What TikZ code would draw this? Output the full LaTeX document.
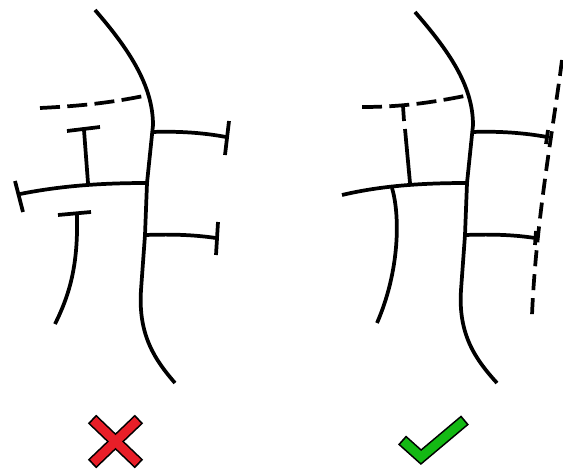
\documentclass[tikz,border=0pt]{standalone}
\definecolor{crossred}{RGB}{232,30,40}
\definecolor{tickgreen}{RGB}{20,185,20}
\begin{document}
\begin{tikzpicture}[x=0.75pt,y=-0.75pt,
  ln/.style={line width=2.8pt},
  dln/.style={line width=2.8pt, dash pattern=on 15pt off 5.5pt},
  markout/.style={line width=9pt, black},
]
\useasboundingbox (0,0) rectangle (563,471);

% ---------- left panel ----------
\coordinate (LA) at (95,10);
\coordinate (LP) at (153,125);
\coordinate (LJ0) at (148.5,95);
\coordinate (LJ1) at (152,132);
\coordinate (LJ2) at (147,183);
\coordinate (LJ3) at (145,235);
\coordinate (LB) at (175,383);
\draw[ln] (LA) .. controls (128,48) and (153,85) .. (LP) -- (LJ2) -- (LJ3) -- (141,290) .. controls (138,335) and (155,360) .. (LB);
\draw[dln] (40,108) .. controls (80,106) and (110,103) .. (LJ0);
% upper right branch
\coordinate (LE1) at (226,137);
\draw[ln] (LJ1) .. controls (180,131) and (205,133) .. (LE1);
\draw[ln] (229,121) -- (225,155);
% long left branch
\coordinate (LE2) at (20,194);
\coordinate (LT) at (88,183);
\draw[ln] (LJ2) .. controls (100,183) and (60,186) .. (LE2);
\draw[ln] (15,181) -- (23,212);
% T upward
\draw[ln] (LT) -- (84,130);
\draw[ln] (67,131) -- (100,127);
% lower right branch
\coordinate (LE3) at (216,238);
\draw[ln] (LJ3) .. controls (175,234) and (195,235) .. (LE3);
\draw[ln] (218,222) -- (216,255);
% lower left curve
\draw[ln] (77,214) .. controls (78,260) and (72,290) .. (55,324);
\draw[ln] (58,215) -- (91,212);

% ---------- right panel ----------
\coordinate (RA) at (415,12);
\coordinate (RP) at (473,125);
\coordinate (RJ0) at (469.5,95);
\coordinate (RJ1) at (472,132);
\coordinate (RJ2) at (467,183);
\coordinate (RJ3) at (465,235);
\coordinate (RB) at (497,383);
\draw[ln] (RA) .. controls (448,50) and (473,85) .. (RP) -- (RJ2) -- (RJ3) -- (461,290) .. controls (458,335) and (476,360) .. (RB);
\draw[dln] (362,107) .. controls (400,107) and (430,103) .. (RJ0);
% dashed T
\draw[ln] (403,106) -- (404,121);
\draw[ln] (405,129) -- (410,183);
% upper right branch
\coordinate (RE1) at (547,137);
\draw[ln] (RJ1) .. controls (500,131) and (525,133) .. (RE1);
\draw[ln] (548,130) -- (546,144);
% long left branch
\coordinate (RE2) at (342,195);
\draw[ln] (RJ2) .. controls (420,183) and (380,186) .. (RE2);
% lower right branch
\coordinate (RE3) at (535,238);
\draw[ln] (RJ3) .. controls (495,234) and (515,235) .. (RE3);
\draw[ln] (536,231) -- (535,245);
% lower left curve
\draw[ln] (392,188) .. controls (400,215) and (400,270) .. (377,323);
% right dashed boundary
\draw[line width=2.8pt, dash pattern=on 12pt off 6pt] (562,60) .. controls (553,130) and (536,220) .. (532,315);

% ---------- marks ----------
\coordinate (X1) at (92,419);
\coordinate (X2) at (139,464);
\coordinate (X3) at (139,419);
\coordinate (X4) at (92,464);
\draw[markout] (X1) -- (X2);
\draw[markout] (X3) -- (X4);
\draw[line width=6.6pt, crossred, shorten <=1.3pt, shorten >=1.3pt] (X1) -- (X2);
\draw[line width=6.6pt, crossred, shorten <=1.3pt, shorten >=1.3pt] (X3) -- (X4);

\coordinate (C1) at (402,440);
\coordinate (C2) at (421,457);
\coordinate (C3) at (465,420);
\draw[markout, miter limit=10] (C1) -- (C2) -- (C3);
\draw[line width=6.6pt, tickgreen, miter limit=10, shorten <=1.3pt, shorten >=1.3pt] (C1) -- (C2) -- (C3);
\end{tikzpicture}
\end{document}
